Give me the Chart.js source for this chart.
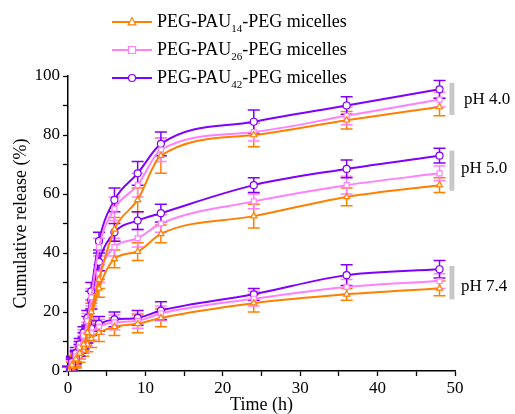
<!DOCTYPE html>
<html>
<head>
<meta charset="utf-8">
<script src="https://cdn.jsdelivr.net/npm/chart.js@4.4.1/dist/chart.umd.min.js"></script>
<style>
  html, body { margin: 0; padding: 0; background: #ffffff; }
  #c { display: block; }
</style>
</head>
<body>
<canvas id="c" width="515" height="414"></canvas>
<script>
// ---- data ----
const times = [0, 0.5, 1, 1.5, 2, 2.5, 3, 4, 6, 9, 12, 24, 36, 48];

const seriesNames = ["PEG-PAU", "PEG-PAU", "PEG-PAU"];
const seriesSubs = ["14", "26", "42"];
const seriesSuffix = "-PEG micelles";

// pH 4.0
const pau14_pH40 = [0, 2, 4, 6, 9, 13, 20, 31, 48, 58, 73, 80, 85, 89.5];
const pau26_pH40 = [0, 2.5, 5, 8, 12, 17, 25, 42, 55, 63, 75, 81, 86.5, 92];
const pau42_pH40 = [0, 3, 6, 9, 13, 18, 27, 44, 58, 67, 77, 84.5, 90, 95.5];
// pH 5.0
const pau14_pH50 = [0, 1.5, 3.5, 6, 8, 12, 18, 28, 38, 40.5, 46.5, 52.5, 59, 63];
const pau26_pH50 = [0, 2, 4.5, 7, 10, 14, 21, 33, 42, 45, 50, 57.5, 63, 67];
const pau42_pH50 = [0, 2.5, 5, 8, 11, 16, 24, 37, 47, 51, 53.5, 63, 68.5, 73];
// pH 7.4
const pau14_pH74 = [0, 1, 3, 5, 7, 9, 11, 13, 15, 16, 18, 23, 26, 28];
const pau26_pH74 = [0, 1.5, 4, 6, 8.5, 11, 13, 15, 16.5, 17, 19.5, 24.5, 28.5, 30.5];
const pau42_pH74 = [0, 2, 4.5, 7, 9.5, 12, 14.5, 16, 17.5, 18, 20.5, 26, 32.5, 34.5];

// error bars (± %)
const err14_pH40 = [1.5, 2, 2, 2, 2, 2.5, 3, 3, 4, 4, 6, 4, 3, 3];
const err26_pH40 = [1.5, 2, 2, 2, 2, 2.5, 3, 3, 4, 4, 4, 3, 3, 2.5];
const err42_pH40 = [1.5, 2, 2, 2, 2, 2.5, 3, 3, 4, 4, 4, 4, 3, 3];
const err14_pH50 = [1.5, 2, 2, 2, 2, 2.5, 3, 3, 3, 3, 3, 4, 3, 2.5];
const err26_pH50 = [1.5, 2, 2, 2, 2, 2.5, 3, 3, 3, 3, 3, 2.5, 3, 2.5];
const err42_pH50 = [1.5, 2, 2, 2, 2, 2.5, 3, 3, 3, 3, 3, 2.5, 3, 2.5];
const err14_pH74 = [1.5, 2, 2, 2, 2, 2.5, 3, 3, 3, 3, 3, 3, 2, 2.5];
const err26_pH74 = [1.5, 2, 2, 2, 2, 2.5, 2.5, 2.5, 2.5, 2.5, 2.5, 2.5, 2.5, 2.5];
const err42_pH74 = [1.5, 2, 2, 2, 2, 2.5, 2.5, 2.5, 2.5, 2.5, 3, 2, 3.5, 3];

const phLabels = ["pH 4.0", "pH 5.0", "pH 7.4"];
const phLabelY = [92, 68.8, 28.6];
const phBarRange = [[86.8, 97.7], [61.1, 74.7], [24.3, 35.6]];

const colors = ["#ff8000", "#ff80ff", "#8000ff"];
const markers = ["triangle", "rect", "circle"];

// ---- build datasets ----
const groups = [
  [pau14_pH40, pau26_pH40, pau42_pH40],
  [pau14_pH50, pau26_pH50, pau42_pH50],
  [pau14_pH74, pau26_pH74, pau42_pH74]
];
const errGroups = [
  [err14_pH40, err26_pH40, err42_pH40],
  [err14_pH50, err26_pH50, err42_pH50],
  [err14_pH74, err26_pH74, err42_pH74]
];
const datasets = [];
groups.forEach((g, gi) => {
  g.forEach((vals, si) => {
    datasets.push({
      label: seriesNames[si] + seriesSubs[si] + seriesSuffix + " (" + phLabels[gi] + ")",
      data: vals.map((v, i) => ({ x: times[i], y: v })),
      errors: errGroups[gi][si],
      borderColor: colors[si],
      backgroundColor: "#ffffff",
      borderWidth: 2,
      pointStyle: markers[si],
      pointRadius: 3.5,
      pointBorderWidth: 1.2,
      pointBorderColor: colors[si],
      pointBackgroundColor: "#ffffff",
      cubicInterpolationMode: "monotone",
      fill: false
    });
  });
});

const FONT = "'Liberation Serif', 'Times New Roman', serif";

const errorBarPlugin = {
  id: "errorBars",
  beforeDatasetsDraw(chart) {
    const ctx = chart.ctx;
    const xs = chart.scales.x, ys = chart.scales.y;
    ctx.save();
    chart.data.datasets.forEach(ds => {
      ctx.strokeStyle = ds.borderColor;
      ctx.lineWidth = 1.5;
      ds.data.forEach((p, i) => {
        const e = ds.errors[i];
        const px = xs.getPixelForValue(p.x);
        const yTop = ys.getPixelForValue(p.y + e);
        const yBot = ys.getPixelForValue(Math.max(p.y - e, 0));
        ctx.beginPath();
        ctx.moveTo(px, yTop); ctx.lineTo(px, yBot);
        ctx.moveTo(px - 6, yTop); ctx.lineTo(px + 6, yTop);
        if (p.y - e >= 0) { ctx.moveTo(px - 6, yBot); ctx.lineTo(px + 6, yBot); }
        ctx.stroke();
      });
    });
    ctx.restore();
  }
};

function drawMarker(ctx, style, x, y, color) {
  ctx.save();
  ctx.strokeStyle = color;
  ctx.fillStyle = "#ffffff";
  ctx.lineWidth = 1.2;
  ctx.beginPath();
  const r = 3.5;
  if (style === "circle") {
    ctx.arc(x, y, r, 0, Math.PI * 2);
  } else if (style === "rect") {
    ctx.rect(x - r, y - r, 2 * r, 2 * r);
  } else {
    ctx.moveTo(x, y - r * 1.2);
    ctx.lineTo(x + r * 1.1, y + r * 0.8);
    ctx.lineTo(x - r * 1.1, y + r * 0.8);
    ctx.closePath();
  }
  ctx.fill();
  ctx.stroke();
  ctx.restore();
}

const annotPlugin = {
  id: "annot",
  afterDraw(chart) {
    const ctx = chart.ctx;
    const xs = chart.scales.x, ys = chart.scales.y;
    ctx.save();
    // gray bars + pH labels
    phLabels.forEach((t, i) => {
      const bx = xs.getPixelForValue(49.6);
      const y1 = ys.getPixelForValue(phBarRange[i][1]);
      const y2 = ys.getPixelForValue(phBarRange[i][0]);
      ctx.fillStyle = "#c8c8c8";
      ctx.fillRect(bx - 2.5, y1, 5, y2 - y1);
      ctx.fillStyle = "#000000";
      ctx.font = "17px " + FONT;
      ctx.textBaseline = "middle";
      ctx.textAlign = "left";
      ctx.fillText(t, bx + (i === 0 ? 12 : 9), ys.getPixelForValue(phLabelY[i]));
    });
    // legend
    const lx0 = 112, lx1 = 152, tx = 157;
    for (let i = 0; i < 3; i++) {
      const y = 22 + i * 28;
      ctx.strokeStyle = colors[i];
      ctx.lineWidth = 2;
      ctx.beginPath(); ctx.moveTo(lx0, y); ctx.lineTo(lx1, y); ctx.stroke();
      drawMarker(ctx, markers[i], (lx0 + lx1) / 2, y, colors[i]);
      ctx.fillStyle = "#000000";
      ctx.textBaseline = "middle";
      ctx.textAlign = "left";
      ctx.font = "18px " + FONT;
      let x = tx;
      ctx.fillText(seriesNames[i], x, y);
      x += ctx.measureText(seriesNames[i]).width;
      ctx.font = "11px " + FONT;
      ctx.fillText(seriesSubs[i], x, y + 7);
      x += ctx.measureText(seriesSubs[i]).width;
      ctx.font = "18px " + FONT;
      ctx.fillText(seriesSuffix, x, y);
    }
    ctx.restore();
  }
};

new Chart(document.getElementById("c"), {
  type: "line",
  data: { datasets },
  plugins: [errorBarPlugin, annotPlugin],
  options: {
    responsive: false,
    animation: false,
    devicePixelRatio: 1,
    layout: { padding: { left: 0, top: 76, right: 60, bottom: 0 } },
    plugins: { legend: { display: false }, tooltip: { enabled: false } },
    scales: {
      x: {
        type: "linear",
        min: 0, max: 50,
        afterFit(s) { s.height = 43; },
        ticks: {
          stepSize: 5,
          autoSkip: false,
          maxRotation: 0,
          padding: 2,
          color: "#000",
          font: { family: FONT, size: 17 },
          callback: v => (v % 10 === 0 ? v : "")
        },
        grid: { drawOnChartArea: false, tickLength: 5, color: "#000", tickWidth: 1.3 },
        border: { color: "#000", width: 1.5 },
        title: {
          display: true, text: "Time (h)", color: "#000",
          font: { family: FONT, size: 18, lineHeight: 1.0 },
          padding: { top: 0, bottom: 0 }
        }
      },
      y: {
        min: 0, max: 100,
        afterFit(s) { s.width = 68; },
        ticks: {
          stepSize: 10,
          autoSkip: false,
          padding: 3,
          color: "#000",
          font: { family: FONT, size: 17 },
          callback: v => (v % 20 === 0 ? v : "")
        },
        grid: { drawOnChartArea: false, tickLength: 5, color: "#000", tickWidth: 1.3 },
        border: { color: "#000", width: 1.5 },
        title: {
          display: true, text: "Cumulative release (%)", color: "#000",
          font: { family: FONT, size: 18 },
          padding: { top: 10, bottom: 0 }
        }
      }
    }
  }
});
</script>
</body>
</html>
